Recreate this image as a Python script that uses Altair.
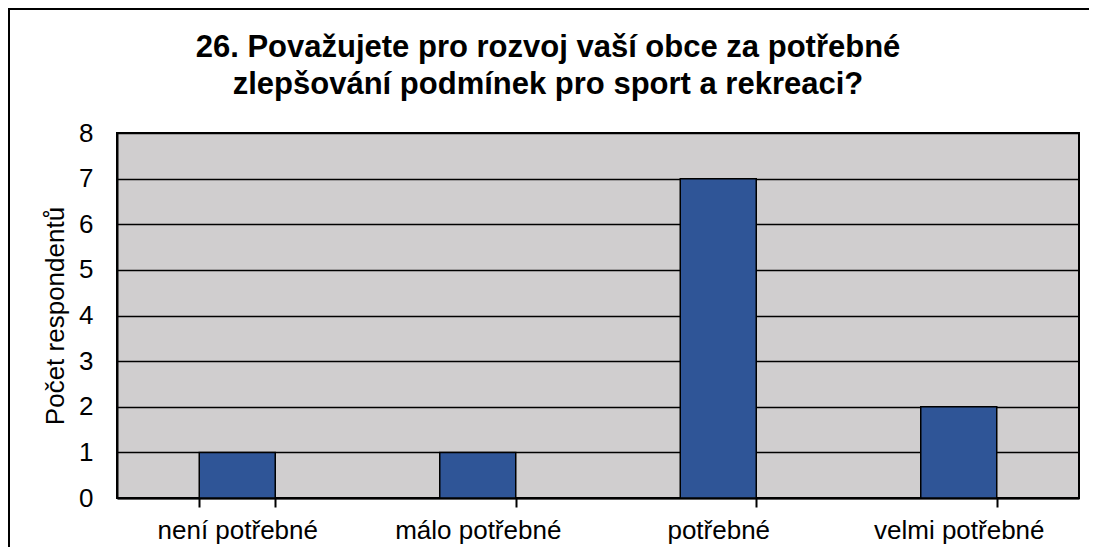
import altair as alt
import pandas as pd

categories = ["není potřebné", "málo potřebné", "potřebné", "velmi potřebné"]
counts = [1, 1, 7, 2]
y_ticks = [0, 1, 2, 3, 4, 5, 6, 7, 8]

df = pd.DataFrame({"kategorie": categories, "pocet": counts})

FONT = "Liberation Sans"
W, H = 962, 365

bars = alt.Chart(df).mark_bar(
    color="#2F5597", stroke="black", strokeWidth=1.5
).encode(
    x=alt.X(
        "kategorie:N",
        sort=categories,
        scale=alt.Scale(paddingInner=0.684, paddingOuter=0.342),
        axis=alt.Axis(
            title=None, labelAngle=0, labelFont=FONT, labelFontSize=26,
            labelColor="black", domainColor="black", domainWidth=2,
            tickColor="black", tickWidth=2, tickSize=9, labelPadding=10,
            tickBand="extent", grid=False,
        ),
    ),
    y=alt.Y(
        "pocet:Q",
        scale=alt.Scale(domain=[0, 8], nice=False),
        axis=alt.Axis(
            title="Počet respondentů", values=y_ticks, ticks=False,
            labelFont=FONT, labelFontSize=26, labelColor="black",
            labelPadding=24, titleFont=FONT, titleFontSize=26,
            titleFontWeight="normal", titleColor="black", titlePadding=10,
            domainColor="black", domainWidth=2, grid=True,
            gridColor="black", gridWidth=1.5, gridOpacity=1,
        ),
    ),
)

frame = alt.Chart(df).mark_rect(
    fill="transparent", stroke="black", strokeWidth=2, clip=False
).encode(
    x=alt.value(-108), x2=alt.value(W + 200),
    y=alt.value(-124), y2=alt.value(H + 200),
)

chart = alt.layer(frame, bars).properties(
    width=W,
    height=H,
    padding={"left": 109, "top": 125, "right": 10, "bottom": 49},
    autosize=alt.AutoSizeParams(type="none"),
    title=alt.TitleParams(
        text=["26. Považujete pro rozvoj vaší obce za potřebné",
              "zlepšování podmínek pro sport a rekreaci?"],
        font=FONT, fontSize=31, fontWeight="bold", color="black",
        anchor="middle", dx=-50, offset=-93, lineHeight=37,
    ),
).configure(
    background="white"
).configure_view(
    fill="#D0CECF", stroke="black", strokeWidth=2
)

chart.save("out.html", embed_options={"renderer": "svg", "actions": False})
